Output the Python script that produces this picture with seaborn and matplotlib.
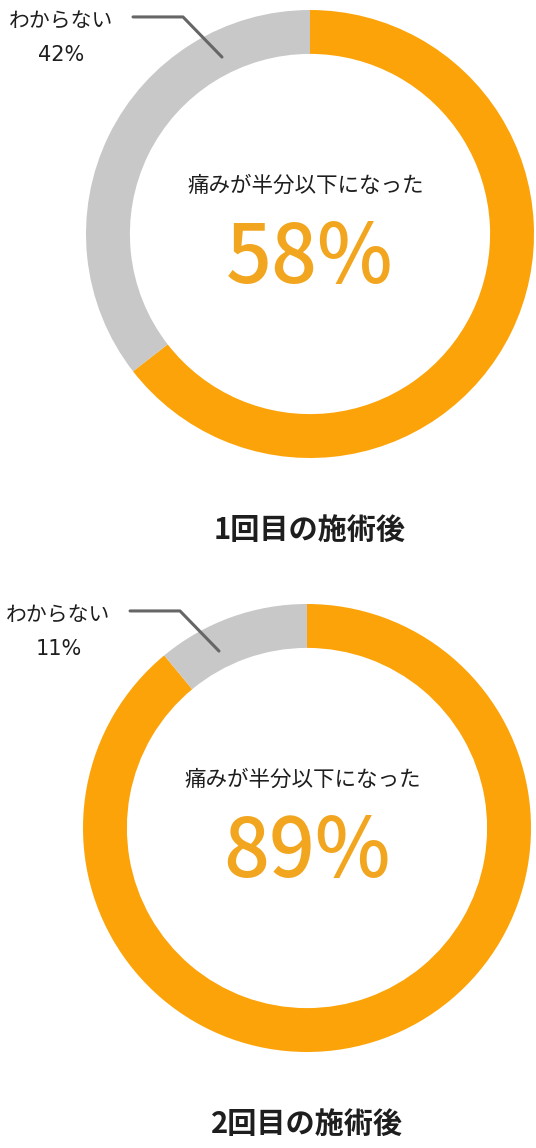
import matplotlib
matplotlib.use("Agg")
import matplotlib.pyplot as plt
import seaborn as sns

# データ
categories = ["痛みが半分以下になった", "わからない"]
titles = ["1回目の施術後", "2回目の施術後"]
# 表示されている割合
first_labels = [58, 42]
second_labels = [89, 11]
# リングの描画比率
first_ring = [64.5, 35.5]
second_ring = [89, 11]

sns.set_theme(style="white")
plt.rcParams["font.family"] = ["Noto Sans CJK JP", "DejaVu Sans"]

colors = sns.color_palette(["#FCA30A", "#C8C8C8"])
text_orange = "#F2A51E"
text_dark = "#1e1e1e"

fig = plt.figure(figsize=(5.36, 11.48), dpi=100)
W, H = 536, 1148


def donut(cx, cy, r, ring, shares, title):
    ax = fig.add_axes([(cx - r) / W, (H - cy - r) / H, 2 * r / W, 2 * r / H])
    ax.pie(ring, colors=colors, startangle=90, counterclock=False,
           radius=1, wedgeprops=dict(width=0.196, linewidth=0))
    ax.set_xlim(-1, 1)
    ax.set_ylim(-1, 1)
    ax.set_aspect("equal")
    ax.axis("off")

    ax.text(-0.02, 0.215, categories[0], ha="center", va="center",
            fontsize=15.5, color=text_dark)
    ax.text(0.0, -0.115, f"{shares[0]}%", ha="center", va="center",
            fontsize=58, fontweight="medium", color=text_orange)
    ax.text(0.0, -1.32, title, ha="center", va="center",
            fontsize=21, fontweight="bold", color=text_dark)

    # わからない ラベル
    ax.text(-1.11, 0.95, categories[1], ha="center", va="center",
            fontsize=15, color=text_dark)
    ax.text(-1.11, 0.80, f"{shares[1]}%", ha="center", va="center",
            fontsize=15, color=text_dark, family=["DejaVu Sans"])
    ax.plot([-0.79, -0.567, -0.393], [0.969, 0.969, 0.79],
            color="#666666", linewidth=2.2, clip_on=False)


donut(310, 234, 224, first_ring, first_labels, titles[0])
donut(307, 828, 224, second_ring, second_labels, titles[1])

fig.savefig("out.png", dpi=100, facecolor="white")
